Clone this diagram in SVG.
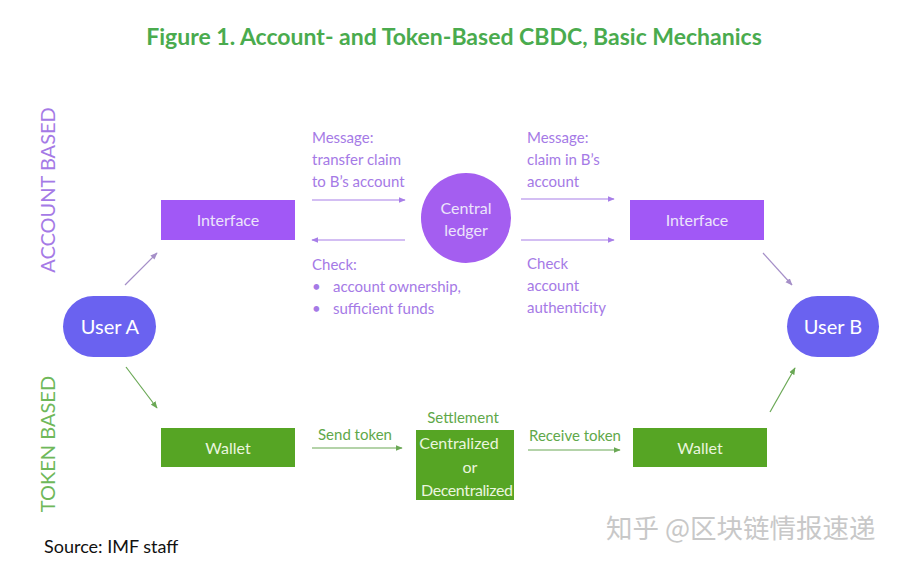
<svg xmlns="http://www.w3.org/2000/svg" width="900" height="567" viewBox="0 0 900 567">
<defs>
<style>
text{font-family:Lato,"Liberation Sans",sans-serif}
.title{font-size:23px;font-weight:bold;fill:#4aab4e}
.pl{font-size:15px;fill:#a57ae6}
.gl{font-size:15px;fill:#5fa84a}
.side{font-size:20px}
.box{font-size:16px;fill:#ece4fb;text-anchor:middle}
.gbox{font-size:16px;fill:#eaf5df;text-anchor:middle}
.user{font-size:20px;fill:#ffffff;text-anchor:middle}
.pc{stroke:#a77ee8;stroke-width:1.2;fill:none}
.gc{stroke:#6aa855;stroke-width:1.2;fill:none}
.dc{stroke:#a58fc8;stroke-width:1.2;fill:none}
</style>
<marker id="ap" viewBox="0 0 10 10" refX="9" refY="5" markerWidth="6" markerHeight="6" orient="auto"><path d="M0,1 L10,5 L0,9 z" fill="#a77ee8"/></marker>
<marker id="ag" viewBox="0 0 10 10" refX="9" refY="5" markerWidth="6" markerHeight="6" orient="auto"><path d="M0,1 L10,5 L0,9 z" fill="#6aa855"/></marker>
<marker id="ad" viewBox="0 0 10 10" refX="9" refY="5" markerWidth="6" markerHeight="6" orient="auto"><path d="M0,1 L10,5 L0,9 z" fill="#a58fc8"/></marker>
</defs>
<rect width="900" height="567" fill="#ffffff"/>
<text class="title" x="454" y="45" text-anchor="middle">Figure 1. Account- and Token-Based CBDC, Basic Mechanics</text>
<text class="side" fill="#a57ae6" transform="translate(55,190) rotate(-90)" text-anchor="middle">ACCOUNT BASED</text>
<text class="side" fill="#6fb85a" transform="translate(55,444) rotate(-90)" text-anchor="middle">TOKEN BASED</text>

<g id="connectors">
<line class="dc" x1="125" y1="285" x2="157" y2="253" marker-end="url(#ad)"/>
<line class="gc" x1="126" y1="367" x2="157" y2="408" marker-end="url(#ag)"/>
<line class="dc" x1="763" y1="253" x2="792" y2="285" marker-end="url(#ad)"/>
<line class="gc" x1="770" y1="412" x2="795" y2="368" marker-end="url(#ag)"/>
<line class="pc" x1="312" y1="200" x2="405" y2="200" marker-end="url(#ap)"/>
<line class="pc" x1="405" y1="240" x2="312" y2="240" marker-end="url(#ap)"/>
<line class="pc" x1="521" y1="199" x2="614" y2="199" marker-end="url(#ap)"/>
<line class="pc" x1="521" y1="240" x2="614" y2="240" marker-end="url(#ap)"/>
<line class="gc" x1="312" y1="448" x2="402" y2="448" marker-end="url(#ag)"/>
<line class="gc" x1="528" y1="450" x2="620" y2="450" marker-end="url(#ag)"/>
</g>

<g id="labels">
<text class="pl" x="312" y="143">Message:</text>
<text class="pl" x="312" y="165">transfer claim</text>
<text class="pl" x="312" y="187">to B’s account</text>
<text class="pl" x="312" y="270">Check:</text>
<text class="pl" x="312" y="292">•</text>
<text class="pl" x="333" y="292">account ownership,</text>
<text class="pl" x="312" y="314">•</text>
<text class="pl" x="333" y="314">sufficient funds</text>
<text class="pl" x="527" y="143">Message:</text>
<text class="pl" x="527" y="165">claim in B’s</text>
<text class="pl" x="527" y="187">account</text>
<text class="pl" x="527" y="269">Check</text>
<text class="pl" x="527" y="291">account</text>
<text class="pl" x="527" y="313">authenticity</text>
<text class="gl" x="318" y="440">Send token</text>
<text class="gl" x="529" y="441">Receive token</text>
</g>

<g id="user-a"><rect x="63" y="296" width="93" height="61" rx="30.5" fill="#6a62f0"/><text class="user" x="110" y="334">User A</text></g>
<g id="user-b"><rect x="787" y="296" width="92" height="61" rx="30.5" fill="#6a62f0"/><text class="user" x="833" y="334">User B</text></g>
<g id="interface-left"><rect x="161" y="200" width="134" height="40" fill="#a158f6"/><text class="box" x="228" y="226">Interface</text></g>
<g id="interface-right"><rect x="630" y="200" width="134" height="40" fill="#a158f6"/><text class="box" x="697" y="226">Interface</text></g>
<g id="central-ledger"><circle cx="466" cy="218" r="45" fill="#a45ef0"/><text class="box" x="466" y="214">Central</text><text class="box" x="466" y="236">ledger</text></g>
<g id="wallet-left"><rect x="161" y="428" width="134" height="39" fill="#56a524"/><text class="gbox" x="228" y="454">Wallet</text></g>
<g id="wallet-right"><rect x="633" y="428" width="134" height="39" fill="#56a524"/><text class="gbox" x="700" y="454">Wallet</text></g>
<g id="settlement"><text class="gl" x="463" y="423" text-anchor="middle">Settlement</text><rect x="416" y="430" width="98" height="70" fill="#56a524"/><text class="gbox" x="459" y="449">Centralized</text><text class="gbox" x="470" y="473">or</text><text class="gbox" x="467" y="496" textLength="92">Decentralized</text></g>

<text x="44" y="553" font-size="18" fill="#111111">Source: IMF staff</text>
<text x="606" y="538" font-size="26.5" fill="#c8c8c8" style="font-family:'Noto Sans CJK SC',sans-serif">知乎 @区块链情报速递</text>
</svg>
